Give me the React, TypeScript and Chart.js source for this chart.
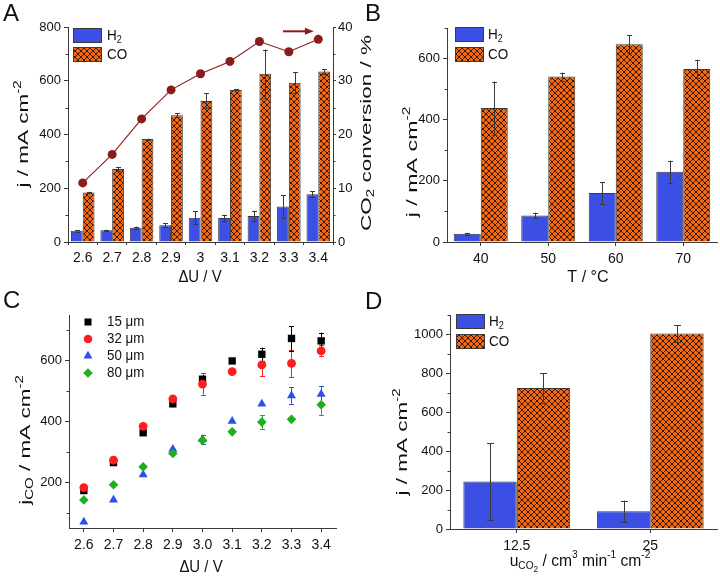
import React, { useEffect, useRef } from 'react';
import { Chart, registerables } from 'chart.js';
import { drawPoint } from 'chart.js/helpers';
Chart.register(...registerables);

const FAMILY = 'Arial, "Liberation Sans", Helvetica, sans-serif';
Chart.defaults.font.family = FAMILY;
Chart.defaults.color = '#1a1a1a';

// ---------------- Panel A data ----------------
const categoriesA = ['2.6', '2.7', '2.8', '2.9', '3', '3.1', '3.2', '3.3', '3.4'];
const h2A = [42, 44, 53, 62, 90, 89, 97, 132, 178];
const h2ErrA = [3, 2, 4, 8, 24, 12, 19, 42, 11];
const coA = [184, 272, 383, 472, 525, 566, 626, 593, 634];
const coErrA = [3, 8, 2, 8, 28, 2, 90, 40, 10];
const convA = [11.0, 16.3, 22.9, 28.3, 31.3, 33.6, 37.3, 35.4, 37.7];
const yTicksA = [0, 200, 400, 600, 800];
const y1TicksA = [0, 10, 20, 30, 40];

// ---------------- Panel B data ----------------
const categoriesB = ['40', '50', '60', '70'];
const h2B = [27, 87, 160, 230];
const h2ErrB = [3, 9, 36, 36];
const coB = [438, 541, 647, 566];
const coErrB = [87, 13, 29, 30];
const yTicksB = [0, 200, 400, 600];

// ---------------- Panel C data ----------------
const voltsC = [2.6, 2.7, 2.8, 2.9, 3.0, 3.1, 3.2, 3.3, 3.4];
const c15 = [173, 265, 363, 458, 539, 599, 621, 673, 665];
const c15Err = [0, 0, 0, 0, 12, 0, 22, 41, 27];
const c32 = [183, 273, 384, 474, 523, 564, 586, 591, 632];
const c32Err = [0, 5, 0, 0, 35, 0, 38, 45, 18];
const c50 = [70, 142, 225, 309, 341, 401, 458, 485, 490];
const c50Err = [0, 0, 0, 0, 15, 0, 0, 27, 27];
const c80 = [142, 192, 251, 295, 338, 366, 398, 407, 455];
const c80Err = [0, 0, 0, 0, 0, 0, 22, 0, 35];
const xTicksC = [2.6, 2.7, 2.8, 2.9, 3.0, 3.1, 3.2, 3.3, 3.4];
const yTicksC = [200, 400, 600];

// ---------------- Panel D data ----------------
const categoriesD = ['12.5', '25'];
const h2D = [244, 91];
const h2ErrD = [197, 55];
const coD = [725, 1005];
const coErrD = [75, 43];
const yTicksD = [0, 200, 400, 600, 800, 1000];

// ---------------- styles ----------------
const BLUE = '#3b4fe4';
const ORANGE = '#f26812';
const EDGE = '#3a3a3a';
const DARKRED = '#8c1c1c';
const TXT = '#111111';

function makeHatch(): any {
  const c = document.createElement('canvas');
  c.width = 6;
  c.height = 6;
  const g = c.getContext('2d')!;
  g.fillStyle = ORANGE;
  g.fillRect(0, 0, 6, 6);
  g.strokeStyle = 'rgba(30,10,0,0.85)';
  g.lineWidth = 1;
  g.beginPath();
  g.moveTo(-1, -1); g.lineTo(7, 7);
  g.moveTo(7, -1); g.lineTo(-1, 7);
  g.stroke();
  return g.createPattern(c, 'repeat');
}

type Seg = [string, number?];
interface TextItem { segs: Seg[]; x: number; y: number; size: number; rot?: number; sx?: number; align?: 'left' | 'center'; }

function drawRich(ctx: CanvasRenderingContext2D, it: TextItem) {
  const { segs, x, y, size, rot = 0, sx = 1, align = 'center' } = it;
  const fontFor = (k: number) => `${k === 3 ? Math.round(size * 0.5) : k ? Math.round(size * 0.65) : size}px ${FAMILY}`;
  const offFor = (k: number) => (k === 1 ? size * 0.3 : k === 2 ? -size * 0.36 : k === 3 ? size * 0.5 : 0);
  ctx.save();
  ctx.translate(x, y);
  if (rot) ctx.rotate((rot * Math.PI) / 180);
  ctx.scale(sx, 1);
  ctx.fillStyle = TXT;
  ctx.textBaseline = 'middle';
  ctx.textAlign = 'left';
  let w = 0;
  for (const [t, k = 0] of segs) { ctx.font = fontFor(k); w += ctx.measureText(t).width; }
  let cx = align === 'center' ? -w / 2 : 0;
  for (const [t, k = 0] of segs) {
    ctx.font = fontFor(k);
    ctx.fillText(t, cx, offFor(k));
    cx += ctx.measureText(t).width;
  }
  ctx.restore();
}

const textPlugin = (items: TextItem[]) => ({
  id: 'richTexts',
  afterDraw(chart: any) { items.forEach((it) => drawRich(chart.ctx, it)); },
});

interface LegendItem { kind: 'box' | 'point'; x: number; y: number; w?: number; h?: number; fill: any; style?: string; r?: number; segs: Seg[]; tx: number; }
const legendPlugin = (items: LegendItem[]) => ({
  id: 'panelLegend',
  afterDraw(chart: any) {
    const ctx = chart.ctx as CanvasRenderingContext2D;
    items.forEach((it) => {
      ctx.save();
      if (it.kind === 'box') {
        ctx.fillStyle = it.fill;
        ctx.fillRect(it.x, it.y, it.w!, it.h!);
        ctx.strokeStyle = EDGE;
        ctx.lineWidth = 1;
        ctx.strokeRect(it.x + 0.5, it.y + 0.5, it.w! - 1, it.h! - 1);
        ctx.restore();
        drawRich(ctx, { segs: it.segs, x: it.tx, y: it.y + it.h! / 2, size: 15, sx: 0.9, align: 'left' });
      } else {
        ctx.fillStyle = it.fill;
        ctx.strokeStyle = it.fill;
        drawPoint(ctx, { pointStyle: it.style as any, rotation: 0, radius: it.r!, borderWidth: 0 } as any, it.x, it.y);
        ctx.restore();
        drawRich(ctx, { segs: it.segs, x: it.tx, y: it.y, size: 14, sx: 0.95, align: 'left' });
      }
    });
  },
});

const errorBarPlugin = (when: 'before' | 'after', cap: number) => {
  const draw = (chart: any) => {
    const ctx = chart.ctx as CanvasRenderingContext2D;
    chart.data.datasets.forEach((ds: any, i: number) => {
      if (!ds.errors) return;
      const meta = chart.getDatasetMeta(i);
      const ys = chart.scales[meta.yAxisID];
      ctx.save();
      ctx.strokeStyle = ds.errorColor || EDGE;
      ctx.lineWidth = 1;
      meta.data.forEach((el: any, j: number) => {
        const e = ds.errors[j];
        if (!e) return;
        const raw = ds.data[j];
        const v = typeof raw === 'number' ? raw : raw.y;
        const top = ys.getPixelForValue(v + e);
        const bot = ys.getPixelForValue(v - e);
        const x = Math.round(el.x) + 0.5;
        ctx.beginPath();
        ctx.moveTo(x, top); ctx.lineTo(x, bot);
        ctx.moveTo(x - cap / 2, Math.round(top) + 0.5); ctx.lineTo(x + cap / 2, Math.round(top) + 0.5);
        ctx.moveTo(x - cap / 2, Math.round(bot) + 0.5); ctx.lineTo(x + cap / 2, Math.round(bot) + 0.5);
        ctx.stroke();
      });
      ctx.restore();
    });
  };
  return when === 'before'
    ? { id: 'errorBars', beforeDatasetsDraw: draw }
    : { id: 'errorBars', afterDatasetsDraw: draw };
};

const minorTickPlugin = (specs: { id: string; start: number; step: number }[]) => ({
  id: 'minorTicks',
  afterDraw(chart: any) {
    const ctx = chart.ctx as CanvasRenderingContext2D;
    ctx.save();
    ctx.strokeStyle = EDGE;
    ctx.lineWidth = 1;
    specs.forEach(({ id, start, step }) => {
      const s = chart.scales[id];
      for (let v = start; v <= s.max + 1e-9; v += step) {
        const p = Math.round(s.getPixelForValue(v)) + 0.5;
        ctx.beginPath();
        if (s.position === 'left') { ctx.moveTo(s.right, p); ctx.lineTo(s.right - 2.5, p); }
        else { ctx.moveTo(s.left, p); ctx.lineTo(s.left + 2.5, p); }
        ctx.stroke();
      }
    });
    ctx.restore();
  },
});

const arrowPlugin = (fromIdx: number, toIdx: number, yVal: number) => ({
  id: 'arrowA',
  afterDraw(chart: any) {
    const ctx = chart.ctx as CanvasRenderingContext2D;
    const x1 = chart.scales.x.getPixelForValue(fromIdx);
    const x2 = chart.scales.x.getPixelForValue(toIdx);
    const y = chart.scales.y1.getPixelForValue(yVal);
    ctx.save();
    ctx.strokeStyle = DARKRED;
    ctx.fillStyle = DARKRED;
    ctx.lineWidth = 2;
    ctx.beginPath(); ctx.moveTo(x1, y); ctx.lineTo(x2 - 7, y); ctx.stroke();
    ctx.beginPath(); ctx.moveTo(x2, y); ctx.lineTo(x2 - 9, y - 3.5); ctx.lineTo(x2 - 9, y + 3.5); ctx.closePath(); ctx.fill();
    ctx.restore();
  },
});

const tickFont = { size: 13 };
const plainNum = (v: any) => String(v);
const axisCommon = (extra: any = {}) => ({
  grid: { drawOnChartArea: false, drawTicks: true, tickLength: 4, color: EDGE, lineWidth: 1, ...(extra.grid || {}) },
  border: { display: true, color: EDGE, width: 1 },
  ticks: { color: TXT, font: tickFont, padding: 3, maxRotation: 0, autoSkip: false, ...(extra.ticks || {}) },
});
const numAxis = (extra: any = {}) => {
  const a: any = axisCommon(extra);
  a.ticks = { ...a.ticks, callback: plainNum };
  return a;
};

const fixedTicks = (vals: number[]) => (s: any) => { s.ticks = vals.map((value) => ({ value })); };

function buildA(): any {
  const hatch = makeHatch();
  return {
    type: 'bar',
    data: {
      labels: categoriesA,
      datasets: [
        { type: 'line', label: 'CO2 conversion', data: convA, yAxisID: 'y1', borderColor: DARKRED, backgroundColor: DARKRED, borderWidth: 1.1, pointRadius: 4.5, pointBorderWidth: 0, pointBackgroundColor: DARKRED, order: 0 },
        { label: 'H2', data: h2A, errors: h2ErrA, backgroundColor: BLUE, borderColor: EDGE, borderWidth: 1, yAxisID: 'y', barPercentage: 1, categoryPercentage: 0.8, order: 1 },
        { label: 'CO', data: coA, errors: coErrA, backgroundColor: hatch, borderColor: EDGE, borderWidth: 1, yAxisID: 'y', barPercentage: 1, categoryPercentage: 0.8, order: 1 },
      ],
    },
    options: {
      responsive: false, animation: false, devicePixelRatio: 1,
      layout: { padding: { top: 27, left: 0, right: 0, bottom: 0 } },
      plugins: { legend: { display: false }, tooltip: { enabled: false } },
      scales: {
        x: { ...axisCommon({ grid: { offset: true, tickLength: 3 }, ticks: { font: { size: 14 }, padding: 5 } }), afterFit: (s: any) => { s.height = 48; } },
        y: { ...numAxis(), position: 'left', min: 0, max: 800, afterBuildTicks: fixedTicks(yTicksA), afterFit: (s: any) => { s.width = 68; } },
        y1: { ...numAxis({ ticks: { padding: 2 }, grid: { tickLength: 3 } }), position: 'right', min: 0, max: 40, afterBuildTicks: fixedTicks(y1TicksA), afterFit: (s: any) => { s.width = 47; } },
      },
    },
    plugins: [
      errorBarPlugin('after', 5),
      minorTickPlugin([{ id: 'y', start: 100, step: 200 }, { id: 'y1', start: 5, step: 10 }]),
      arrowPlugin(6.8, 7.85, 39.2),
      legendPlugin([
        { kind: 'box', x: 73, y: 28, w: 29, h: 15, fill: BLUE, segs: [['H'], ['2', 1]], tx: 107 },
        { kind: 'box', x: 73, y: 47, w: 29, h: 15, fill: hatch, segs: [['CO']], tx: 107 },
      ]),
      textPlugin([
        { segs: [['A']], x: 3, y: 14, size: 24, align: 'left' },
        { segs: [['j / mA cm'], ['-2', 2]], x: 24, y: 134, size: 15, rot: -90, sx: 1.5 },
        { segs: [['CO'], ['2', 1], [' conversion / %']], x: 367, y: 133, size: 15, rot: -90, sx: 1.5 },
        { segs: [['\u0394U / V']], x: 200, y: 277, size: 17, sx: 0.88 },
      ]),
    ],
  };
}

function buildBars(labels: string[], h2: number[], h2Err: number[], co: number[], coErr: number[], ymax: number, yTicks: number[], leftW: number, padTop: number, bottomH: number, padRight: number, legendX: number, texts: TextItem[], capW: number): any {
  const hatch = makeHatch();
  return {
    type: 'bar',
    data: {
      labels,
      datasets: [
        { label: 'H2', data: h2, errors: h2Err, backgroundColor: BLUE, borderColor: EDGE, borderWidth: 1, barPercentage: 1, categoryPercentage: 0.8 },
        { label: 'CO', data: co, errors: coErr, backgroundColor: hatch, borderColor: EDGE, borderWidth: 1, barPercentage: 1, categoryPercentage: 0.8 },
      ],
    },
    options: {
      responsive: false, animation: false, devicePixelRatio: 1,
      layout: { padding: { top: padTop, left: 0, right: padRight, bottom: 0 } },
      plugins: { legend: { display: false }, tooltip: { enabled: false } },
      scales: {
        x: { ...axisCommon({ grid: { offset: false }, ticks: { font: { size: 14 }, padding: 5 } }), afterFit: (s: any) => { s.height = bottomH; } },
        y: { ...numAxis(), position: 'left', min: 0, max: ymax, afterBuildTicks: fixedTicks(yTicks), afterFit: (s: any) => { s.width = leftW; } },
      },
    },
    plugins: [
      errorBarPlugin('after', capW),
      minorTickPlugin([{ id: 'y', start: 100, step: 200 }]),
      legendPlugin([
        { kind: 'box', x: legendX, y: padTop - 1, w: 29, h: 15, fill: BLUE, segs: [['H'], ['2', 1]], tx: legendX + 33 },
        { kind: 'box', x: legendX, y: padTop + 19, w: 29, h: 15, fill: hatch, segs: [['CO']], tx: legendX + 33 },
      ]),
      textPlugin(texts),
    ],
  };
}

function buildB(): any {
  return buildBars(categoriesB, h2B, h2ErrB, coB, coErrB, 700, yTicksB, 87, 28, 48, 3, 95, [
    { segs: [['B']], x: 5, y: 14, size: 24, align: 'left' },
    { segs: [['j / mA cm'], ['-2', 2]], x: 53, y: 162, size: 15, rot: -90, sx: 1.55 },
    { segs: [['T / \u00b0C']], x: 228, y: 277, size: 17, sx: 0.95 },
  ], 5);
}

function buildD(): any {
  return buildBars(categoriesD, h2D, h2ErrD, coD, coErrD, 1100, yTicksD, 90, 25, 49, 3, 96, [
    { segs: [['D']], x: 5, y: 12, size: 24, align: 'left' },
    { segs: [['j / mA cm'], ['-2', 2]], x: 43, y: 152, size: 15, rot: -90, sx: 1.5 },
    { segs: [['u'], ['CO', 1], ['2', 3], [' / cm'], ['3', 2], [' min'], ['-1', 2], [' cm'], ['-2', 2]], x: 220, y: 271, size: 17, sx: 0.92 },
  ], 7);
}

function buildC(): any {
  const mk = (label: string, ys: number[], errs: number[], color: string, style: string, r: number) => ({
    label,
    data: voltsC.map((x, i) => ({ x, y: ys[i] })),
    errors: errs,
    errorColor: color,
    backgroundColor: color,
    borderColor: color,
    pointStyle: style,
    pointRadius: r,
    pointBorderWidth: 0,
    showLine: false,
  });
  return {
    type: 'scatter',
    data: {
      datasets: [
        mk('80 \u03bcm', c80, c80Err, '#1fae1f', 'rectRot', 4.8),
        mk('50 \u03bcm', c50, c50Err, '#2a4ff0', 'triangle', 5.2),
        mk('32 \u03bcm', c32, c32Err, '#ff1e1e', 'circle', 4.4),
        mk('15 \u03bcm', c15, c15Err, '#000000', 'rect', 5.2),
      ],
    },
    options: {
      responsive: false, animation: false, devicePixelRatio: 1,
      layout: { padding: { top: 25, left: 0, right: 24, bottom: 0 } },
      plugins: { legend: { display: false }, tooltip: { enabled: false } },
      scales: {
        x: { ...axisCommon({ ticks: { font: { size: 14 }, padding: 5, callback: (v: any) => Number(v).toFixed(1) } }), type: 'linear', min: 2.55, max: 3.45, afterBuildTicks: fixedTicks(xTicksC), afterFit: (s: any) => { s.height = 50; } },
        y: { ...numAxis(), type: 'linear', position: 'left', min: 50, max: 750, afterBuildTicks: fixedTicks(yTicksC), afterFit: (s: any) => { s.width = 69; } },
      },
    },
    plugins: [
      errorBarPlugin('before', 5),
      minorTickPlugin([{ id: 'y', start: 100, step: 200 }]),
      legendPlugin([
        { kind: 'point', x: 88, y: 32, fill: '#000000', style: 'rect', r: 5, segs: [['15 \u03bcm']], tx: 107 },
        { kind: 'point', x: 88, y: 49, fill: '#ff1e1e', style: 'circle', r: 4.3, segs: [['32 \u03bcm']], tx: 107 },
        { kind: 'point', x: 88, y: 66, fill: '#2a4ff0', style: 'triangle', r: 5.2, segs: [['50 \u03bcm']], tx: 107 },
        { kind: 'point', x: 88, y: 83, fill: '#1fae1f', style: 'rectRot', r: 4.8, segs: [['80 \u03bcm']], tx: 107 },
      ]),
      textPlugin([
        { segs: [['C']], x: 3, y: 11, size: 24, align: 'left' },
        { segs: [['j'], ['CO', 1], [' / mA cm'], ['-2', 2]], x: 26, y: 150, size: 15, rot: -90, sx: 1.5 },
        { segs: [['\u0394U / V']], x: 201, y: 277, size: 17, sx: 0.88 },
      ]),
    ],
  };
}

function ChartPanel({ left, top, width, height, build }: { left: number; top: number; width: number; height: number; build: () => any }) {
  const ref = useRef<HTMLCanvasElement>(null);
  useEffect(() => {
    const chart = new Chart(ref.current as HTMLCanvasElement, build());
    return () => chart.destroy();
  }, [build]);
  return (
    <canvas ref={ref} width={width} height={height} style={{ position: 'absolute', left, top, width, height }} />
  );
}

export default function App() {
  return (
    <div style={{ position: 'absolute', left: 0, top: 0, width: 720, height: 578, background: '#ffffff', overflow: 'hidden' }}>
      <ChartPanel left={0} top={0} width={380} height={290} build={buildA} />
      <ChartPanel left={360} top={0} width={360} height={290} build={buildB} />
      <ChartPanel left={0} top={290} width={360} height={288} build={buildC} />
      <ChartPanel left={360} top={290} width={360} height={288} build={buildD} />
    </div>
  );
}
